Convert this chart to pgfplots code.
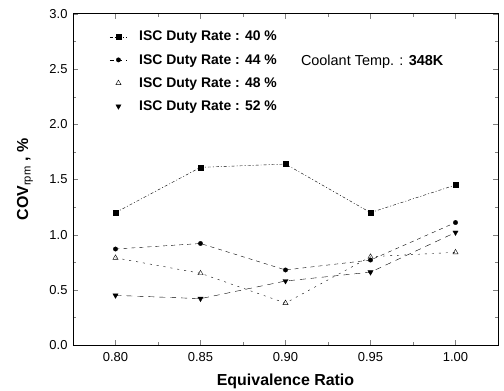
\documentclass[border=0pt]{standalone}
\usepackage{pgfplots}
\pgfplotsset{compat=1.18}
\usepackage{fontspec}
\setmainfont{Liberation Sans}
\begin{document}
\begin{tikzpicture}[x=1bp,y=1bp]
\begin{axis}[
  at={(0,0)}, anchor=south west,
  scale only axis,
  width=425bp, height=331bp,
  xmin=0.775, xmax=1.025,
  ymin=0, ymax=3.0,
  xtick={0.80,0.85,0.90,0.95,1.00},
  ytick={0,0.5,1.0,1.5,2.0,2.5,3.0},
  minor x tick num=1, minor y tick num=1,
  tick align=inside,
  major tick length=5bp, minor tick length=3bp,
  xticklabel style={yshift=-4bp, /pgf/number format/.cd,fixed,fixed zerofill,precision=2},
  yticklabel style={xshift=-2bp, /pgf/number format/.cd,fixed,fixed zerofill,precision=1},
  /pgf/number format/assume math mode=true,
  ticklabel style={font=\fontsize{13}{15}\selectfont},
  xlabel={\bfseries Equivalence Ratio},
  ylabel={\bfseries COV$_{\mathrm{rpm}}$ , \%},
  label style={font=\fontsize{16}{18}\selectfont},
  xlabel style={at={(rel axis cs:0.5,0)}, yshift=-36bp, anchor=center},
  ylabel style={at={(rel axis cs:0,0.5)}, yshift=48bp, anchor=center},
  axis line style={line width=1pt},
  legend style={draw=none, fill=none, at={(0.086,0.955)}, anchor=north west,
    font=\fontsize{14}{16}\selectfont\bfseries, row sep=8pt, column sep=10bp, inner sep=0pt},
  legend cell align=left,
]
\addplot[black, thin, dash pattern=on 3pt off 2pt on 1pt off 2pt, mark=square*, mark size=2.5pt, mark options={solid}]
  coordinates {(0.80,1.20) (0.85,1.61) (0.90,1.64) (0.95,1.20) (1.00,1.45)};
\addlegendentry{ISC Duty Rate : 40 \%}
\addplot[black, thin, dash pattern=on 4pt off 4pt, mark=*, mark size=2.2pt, mark options={solid}]
  coordinates {(0.80,0.87) (0.85,0.92) (0.90,0.68) (0.95,0.77) (1.00,1.11)};
\addlegendentry{ISC Duty Rate : 44 \%}
\addplot[black, thin, dash pattern=on 2pt off 5pt, mark=triangle, mark size=3pt, mark options={solid}, forget plot]
  coordinates {(0.80,0.79) (0.85,0.65) (0.90,0.38) (0.95,0.80) (1.00,0.84)};
\addlegendimage{black, only marks, mark=triangle, mark size=3pt}
\addlegendentry{ISC Duty Rate : 48 \%}
\addplot[black, thin, dash pattern=on 6pt off 5pt, mark=triangle*, mark size=3pt, mark options={solid, rotate=180}, forget plot]
  coordinates {(0.80,0.45) (0.85,0.42) (0.90,0.58) (0.95,0.66) (1.00,1.02)};
\addlegendimage{black, only marks, mark=triangle*, mark size=3pt, mark options={rotate=180}}
\addlegendentry{ISC Duty Rate : 52 \%}
\node[font=\fontsize{14.5}{16}\selectfont] at (axis cs:0.951,2.57) {Coolant Temp. : \textbf{348K}};
\end{axis}
\pgfresetboundingbox
\path (-73bp,-46bp) rectangle (431bp,345bp);
\end{tikzpicture}
\end{document}
